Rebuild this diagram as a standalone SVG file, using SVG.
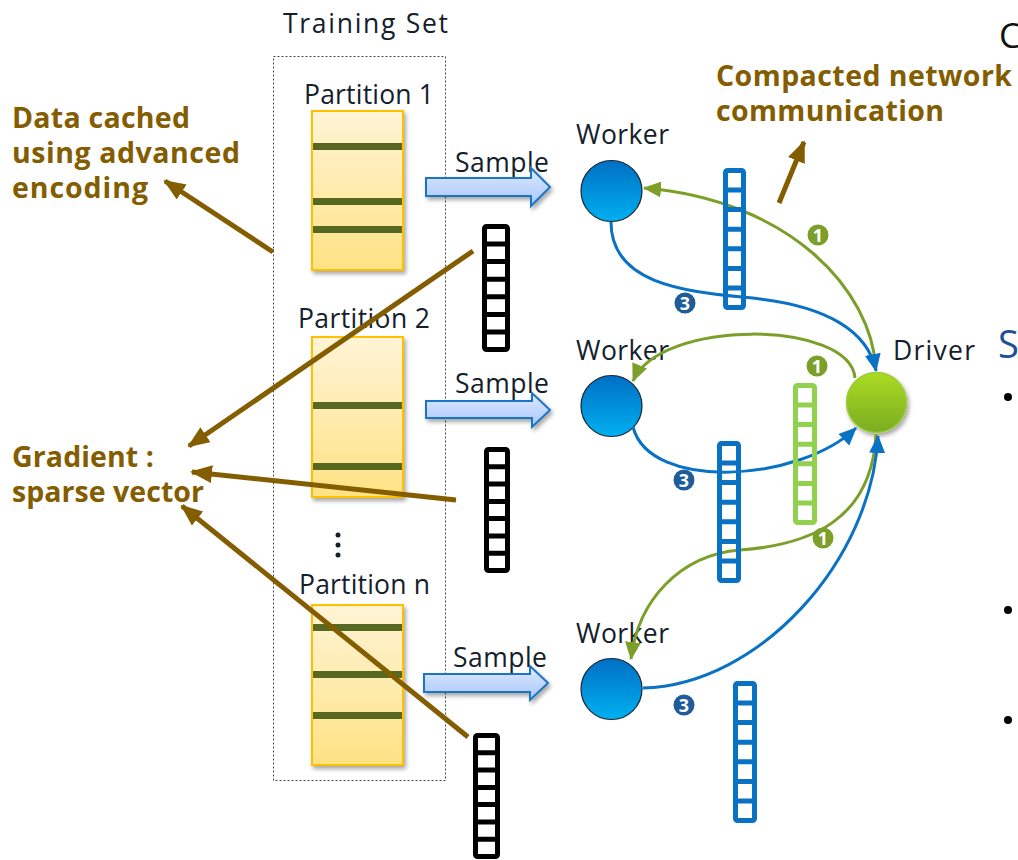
<svg xmlns="http://www.w3.org/2000/svg" width="1018" height="860" viewBox="0 0 1018 860">
  <defs>
    <style>
      .lbl { font-family: "Open Sans", "Noto Sans", sans-serif; fill: #13202c; font-size: 26.5px; }
      .note { font-family: "Open Sans", "Noto Sans", sans-serif; font-weight: bold; fill: #835d00; font-size: 28.5px; }
      .part { fill: url(#partFill); stroke: #ffc000; stroke-width: 2; filter: url(#shadow); }
      .stripe { fill: #576820; }
      .sample { fill: url(#sampleFill); stroke: #1f74c4; stroke-width: 2; filter: url(#shadow); }
      .vec { fill: none; stroke-width: 5; stroke-linejoin: round; }
      .vk { stroke: #000000; }
      .vb { stroke: #0a72c4; }
      .vg { stroke: #92d050; }
      .ptr { fill: none; stroke: #835d00; stroke-width: 5; marker-end: url(#mBrown); }
      .cb { fill: none; stroke: #0a72c4; stroke-width: 3; marker-end: url(#mBlue); }
      .cg { fill: none; stroke: #7c9f2a; stroke-width: 3; marker-end: url(#mGreen); }
      .num { font-family: "Open Sans", "Noto Sans", sans-serif; font-weight: bold; font-size: 18px; fill: #ffffff; text-anchor: middle; }
    </style>
    <linearGradient id="partFill" x1="0" y1="0" x2="0" y2="1">
      <stop offset="0" stop-color="#fff4d6"/>
      <stop offset="1" stop-color="#ffe284"/>
    </linearGradient>
    <linearGradient id="sampleFill" x1="0" y1="0" x2="0" y2="1">
      <stop offset="0" stop-color="#dde9ff"/>
      <stop offset="1" stop-color="#a9c6fb"/>
    </linearGradient>
    <linearGradient id="workerFill" x1="0" y1="0" x2="0" y2="1">
      <stop offset="0" stop-color="#006fc4"/>
      <stop offset="1" stop-color="#00b0f0"/>
    </linearGradient>
    <linearGradient id="driverFill" x1="0" y1="0" x2="0" y2="1">
      <stop offset="0" stop-color="#aadc22"/>
      <stop offset="1" stop-color="#7aac22"/>
    </linearGradient>
    <filter id="shadow" x="-20%" y="-20%" width="150%" height="150%">
      <feGaussianBlur in="SourceAlpha" stdDeviation="2"/>
      <feOffset dx="2" dy="3" result="b"/>
      <feComponentTransfer><feFuncA type="linear" slope="0.35"/></feComponentTransfer>
      <feMerge><feMergeNode/><feMergeNode in="SourceGraphic"/></feMerge>
    </filter>
    <marker id="mBrown" markerUnits="userSpaceOnUse" markerWidth="22" markerHeight="18" refX="20" refY="9" orient="auto">
      <path d="M0 0 L22 9 L0 18 Z" fill="#835d00"/>
    </marker>
    <marker id="mBlue" markerUnits="userSpaceOnUse" markerWidth="18" markerHeight="16" refX="17" refY="8" orient="auto">
      <path d="M0 0 L18 8 L0 16 Z" fill="#0a72c4"/>
    </marker>
    <marker id="mGreen" markerUnits="userSpaceOnUse" markerWidth="18" markerHeight="16" refX="17" refY="8" orient="auto">
      <path d="M0 0 L18 8 L0 16 Z" fill="#7c9f2a"/>
    </marker>
  </defs>

  <rect width="1018" height="860" fill="#ffffff"/>

  <!-- training set container -->
  <g id="training-set">
    <text class="lbl" x="283" y="33" font-size="30" textLength="165" lengthAdjust="spacing">Training Set</text>
    <rect x="273.5" y="56.5" width="172" height="724" fill="none" stroke="#444" stroke-width="1" stroke-dasharray="2,2"/>
    <g fill="#13202c">
      <circle cx="338" cy="535" r="2.5"/>
      <circle cx="338" cy="545" r="2.5"/>
      <circle cx="338" cy="555" r="2.5"/>
    </g>
  </g>

  <g id="partition-1">
    <text class="lbl" x="304" y="104" textLength="130" lengthAdjust="spacing">Partition 1</text>
    <rect class="part" x="312" y="111" width="91" height="159"/>
    <rect class="stripe" x="313" y="143" width="89" height="7"/>
    <rect class="stripe" x="313" y="198" width="89" height="7"/>
    <rect class="stripe" x="313" y="226" width="89" height="7"/>
  </g>
  <g id="partition-2">
    <text class="lbl" x="298" y="328" textLength="132" lengthAdjust="spacing">Partition 2</text>
    <rect class="part" x="312" y="337" width="91" height="160"/>
    <rect class="stripe" x="313" y="402" width="89" height="7"/>
    <rect class="stripe" x="313" y="463" width="89" height="7"/>
  </g>
  <g id="partition-n">
    <text class="lbl" x="299" y="594" textLength="131" lengthAdjust="spacing">Partition n</text>
    <rect class="part" x="312" y="605" width="91" height="160"/>
    <rect class="stripe" x="313" y="624" width="89" height="7"/>
    <rect class="stripe" x="313" y="671" width="89" height="7"/>
    <rect class="stripe" x="313" y="712" width="89" height="7"/>
  </g>

  <!-- sample arrows -->
  <g id="sample-1">
    <text class="lbl" x="455" y="172" textLength="94" lengthAdjust="spacing">Sample</text>
    <path class="sample" d="M426 178 H531 V168 L550 187 L531 206 V196 H426 Z"/>
  </g>
  <g id="sample-2">
    <text class="lbl" x="455" y="393" textLength="94" lengthAdjust="spacing">Sample</text>
    <path class="sample" d="M426 401 H532 V393 L550 410 L532 427 V418 H426 Z"/>
  </g>
  <g id="sample-n">
    <text class="lbl" x="453" y="667" textLength="94" lengthAdjust="spacing">Sample</text>
    <path class="sample" d="M424 674 H530 V666 L548 683 L530 700 V692 H424 Z"/>
  </g>

  <!-- workers and driver -->
  <g id="worker-1">
    <text class="lbl" x="576" y="144" textLength="93" lengthAdjust="spacing">Worker</text>
    <circle cx="611.5" cy="191" r="30.5" fill="url(#workerFill)" stroke="#1a2530" stroke-width="1.2"/>
  </g>
  <g id="worker-2">
    <text class="lbl" x="576" y="360" textLength="93" lengthAdjust="spacing">Worker</text>
    <circle cx="611.5" cy="406" r="30.5" fill="url(#workerFill)" stroke="#1a2530" stroke-width="1.2"/>
  </g>
  <g id="worker-3">
    <text class="lbl" x="576" y="643" textLength="93" lengthAdjust="spacing">Worker</text>
    <circle cx="611.5" cy="689" r="30.5" fill="url(#workerFill)" stroke="#1a2530" stroke-width="1.2"/>
  </g>
  <g id="driver">
    <text class="lbl" x="893" y="360" textLength="82" lengthAdjust="spacing">Driver</text>
    <circle cx="876.5" cy="402.5" r="30" fill="url(#driverFill)" stroke="#9ccc3c" stroke-width="1.5" filter="url(#shadow)"/>
  </g>

  <!-- connectors -->
  <g id="connectors">
    <!-- driver to workers (step 1) -->
    <path class="cg" d="M876 370 C872 290 790 200 644 188"/>
    <path class="cg" d="M855 378 C850 320 660 318 633 381"/>
    <path class="cg" d="M876 434 C872 520 810 545 740 550 C680 555 638 600 631 659"/>
    <!-- workers to driver (step 3) -->
    <path class="cb" d="M611 222 C611 290 700 292 760 299 C825 307 868 330 876 371"/>
    <path class="cb" d="M633 427 C650 492 800 482 856 428"/>
    <path class="cb" d="M643 688 C760 685 872 560 878 436"/>

    <!-- callout pointers -->
    <path class="ptr" d="M273 252 L165 181"/>
    <path class="ptr" d="M473 251 L189 446"/>
    <path class="ptr" d="M456 500 L192 472"/>
    <path class="ptr" d="M468 737 L182 506"/>
    <path class="ptr" d="M779 203 L804 142"/>
  </g>

  <!-- step markers -->
  <g id="step-markers">
    <circle cx="818" cy="235" r="10.5" fill="#7c9f2a"/><text class="num" x="818" y="241.5">1</text>
    <circle cx="817" cy="366" r="10.5" fill="#7c9f2a"/><text class="num" x="817" y="372.5">1</text>
    <circle cx="823" cy="538" r="10.5" fill="#7c9f2a"/><text class="num" x="823" y="544.5">1</text>
    <circle cx="685" cy="303" r="10.5" fill="#1f5c99"/><text class="num" x="685" y="309.5">3</text>
    <circle cx="684" cy="480" r="10.5" fill="#1f5c99"/><text class="num" x="684" y="486.5">3</text>
    <circle cx="684" cy="705" r="10.5" fill="#1f5c99"/><text class="num" x="684" y="711.5">3</text>
  </g>

  <!-- gradient vectors -->
  <g id="vector-partition-1" class="vec vk">
    <rect x="484.5" y="226.5" width="23" height="123" rx="2"/>
    <path d="M484.5 244.1H507.5M484.5 261.6H507.5M484.5 279.2H507.5M484.5 296.8H507.5M484.5 314.4H507.5M484.5 331.9H507.5"/>
  </g>
  <g id="vector-partition-2" class="vec vk">
    <rect x="486.5" y="449.5" width="21" height="121" rx="2"/>
    <path d="M486.5 466.8H507.5M486.5 484.1H507.5M486.5 501.4H507.5M486.5 518.6H507.5M486.5 535.9H507.5M486.5 553.2H507.5"/>
  </g>
  <g id="vector-partition-n" class="vec vk">
    <rect x="475.5" y="735.5" width="22" height="121" rx="2"/>
    <path d="M475.5 752.8H497.5M475.5 770.1H497.5M475.5 787.4H497.5M475.5 804.6H497.5M475.5 821.9H497.5M475.5 839.2H497.5"/>
  </g>
  <g id="vector-worker-1" class="vec vb">
    <rect x="725.5" y="170.5" width="18" height="137" rx="2"/>
    <path d="M725.5 190.1H743.5M725.5 209.6H743.5M725.5 229.2H743.5M725.5 248.8H743.5M725.5 268.4H743.5M725.5 287.9H743.5"/>
  </g>
  <g id="vector-worker-2" class="vec vb">
    <rect x="719.5" y="443.5" width="19" height="137" rx="2"/>
    <path d="M719.5 463.1H738.5M719.5 482.6H738.5M719.5 502.2H738.5M719.5 521.8H738.5M719.5 541.4H738.5M719.5 560.9H738.5"/>
  </g>
  <g id="vector-driver" class="vec vg">
    <rect x="795.5" y="385.5" width="19" height="137" rx="2"/>
    <path d="M795.5 405.1H814.5M795.5 424.6H814.5M795.5 444.2H814.5M795.5 463.8H814.5M795.5 483.4H814.5M795.5 502.9H814.5"/>
  </g>
  <g id="vector-worker-3" class="vec vb">
    <rect x="735.5" y="683.5" width="19" height="137" rx="2"/>
    <path d="M735.5 703.1H754.5M735.5 722.6H754.5M735.5 742.2H754.5M735.5 761.8H754.5M735.5 781.4H754.5M735.5 800.9H754.5"/>
  </g>

  <!-- callout texts -->
  <g id="note-cache">
    <text class="note" x="12" y="128" textLength="178" lengthAdjust="spacing">Data cached</text>
    <text class="note" x="12" y="163" textLength="228" lengthAdjust="spacing">using advanced</text>
    <text class="note" x="12" y="198" textLength="136" lengthAdjust="spacing">encoding</text>
  </g>
  <g id="note-gradient">
    <text class="note" x="12" y="467" textLength="142" lengthAdjust="spacing">Gradient :</text>
    <text class="note" x="12" y="502" textLength="192" lengthAdjust="spacing">sparse vector</text>
  </g>
  <g id="note-network">
    <text class="note" x="716" y="86" textLength="296" lengthAdjust="spacing">Compacted network</text>
    <text class="note" x="716" y="121" textLength="228" lengthAdjust="spacing">communication</text>
  </g>

  <!-- adjoining slide text, clipped at the edge -->
  <g id="side-text">
    <text x="999" y="48" font-family="Open Sans, Noto Sans, sans-serif" font-size="35" fill="#111">C</text>
    <text x="998" y="358" font-family="Open Sans, Noto Sans, sans-serif" font-size="38" fill="#1f4e99">S</text>
    <circle cx="1008" cy="397" r="4" fill="#000"/>
    <circle cx="1008" cy="610" r="4" fill="#000"/>
    <circle cx="1008" cy="720" r="4" fill="#000"/>
  </g>
</svg>
